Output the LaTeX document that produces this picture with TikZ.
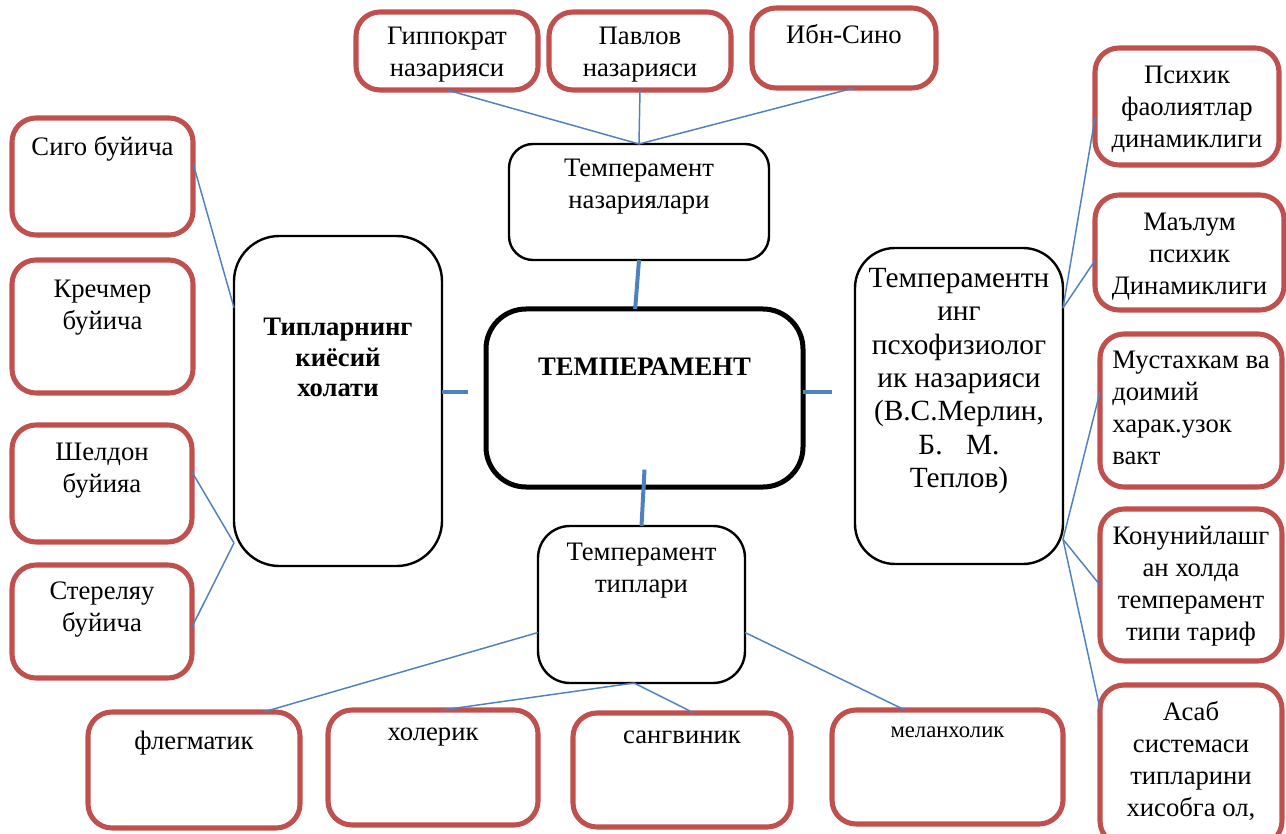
\documentclass[tikz,border=0pt]{standalone}
\usepackage{fontspec}
\setmainfont{Liberation Serif}
\usetikzlibrary{positioning}
\definecolor{boxred}{HTML}{C0504D}
\definecolor{lineblue}{HTML}{4F81BD}

\begin{document}
\begin{tikzpicture}[x=0.75pt,y=-0.75pt,
  every node/.style={font=\fontsize{20}{24}\selectfont},
  base/.style={rectangle,rounded corners=18pt,outer sep=0pt,inner sep=0pt},
  redbox/.style={base,draw=boxred,line width=3.8pt},
  blackbox/.style={base,draw=black,line width=1.8pt},
  txt/.style={anchor=north,inner sep=0pt,align=center,yshift=-12.4pt},
  link/.style={draw=lineblue,line width=1.1pt},
  thicklink/.style={draw=lineblue,line width=3pt}]
\useasboundingbox (0,0) rectangle (1286,834);

% top row
\node[redbox,minimum width=136.5pt,minimum height=58.5pt,
  label={[txt,yshift=1.5pt]north:Гиппократ\\назарияси}] (gipp) at (447,51) {};
\node[redbox,minimum width=136.5pt,minimum height=58.5pt,
  label={[txt,yshift=1.5pt]north:Павлов\\назарияси}] (pavl) at (640,51) {};
\node[redbox,minimum width=138pt,minimum height=60pt,
  label={[txt]north:Ибн-Сино}] (ibn) at (844,48) {};
\node[blackbox,minimum width=195pt,minimum height=87pt,
  label={[txt,yshift=1.5pt]north:Темперамент\\назариялари}] (naz) at (639,202) {};

% centre
\node[base,draw=black,line width=3.75pt,rounded corners=30pt,
  minimum width=237.75pt,minimum height=133.5pt,
  label={[txt,yshift=-24pt,font=\fontsize{20}{24}\selectfont\bfseries]north:ТЕМПЕРАМЕНТ}] (main) at (644.5,398) {};
\node[blackbox,rounded corners=34pt,minimum width=156pt,minimum height=247.5pt,
  label={[txt,yshift=-49pt,font=\fontsize{20}{23}\selectfont\bfseries]north:Типларнинг\\киёсий\\холати}] (tipl) at (338,401) {};
\node[blackbox,rounded corners=30pt,minimum width=156pt,minimum height=237pt,
  label={[txt,yshift=-2.5pt,font=\fontsize{22}{25}\selectfont]north:Темпераментн\\инг\\псхофизиолог\\ик назарияси\\(В.С.Мерлин,\\Б.\hspace{0.8em}М.\\Теплов)}] (psych) at (959,406) {};
\node[blackbox,rounded corners=24pt,minimum width=155.25pt,minimum height=117.75pt,
  label={[txt]north:Темперамент\\типлари}] (types) at (641.5,604.5) {};

% left column
\node[redbox,minimum width=135.75pt,minimum height=87.75pt,
  label={[txt,yshift=-1pt]north:Сиго буйича}] (sigo) at (102.5,176.5) {};
\node[redbox,minimum width=135.75pt,minimum height=99.75pt,
  label={[txt,yshift=-2.5pt]north:Кречмер\\буйича}] (krech) at (102.5,326.5) {};
\node[redbox,minimum width=135pt,minimum height=87.75pt,
  label={[txt,yshift=-1pt]north:Шелдон\\буйияа}] (sheld) at (102,483.5) {};
\node[redbox,minimum width=135pt,minimum height=84.75pt,
  label={[txt]north:Стереляу\\буйича}] (strl) at (102,621.5) {};

% bottom row
\node[redbox,minimum width=159pt,minimum height=87pt,
  label={[txt,yshift=-1.5pt]north:флегматик}] (fleg) at (194,770) {};
\node[redbox,minimum width=157.5pt,minimum height=86.25pt,
  label={[txt,yshift=-1pt]north:холерик}] (chol) at (433,767.5) {};
\node[redbox,minimum width=163.5pt,minimum height=85.5pt,
  label={[txt,yshift=-1pt]north:сангвиник}] (sang) at (682,770) {};
\node[redbox,minimum width=173.25pt,minimum height=85.5pt,
  label={[txt,font=\fontsize{17}{20}\selectfont]north:меланхолик}] (melan) at (947.5,767) {};

% right column
\node[redbox,minimum width=138pt,minimum height=87.75pt,
  label={[txt,yshift=-1pt]north:Психик\\фаолиятлар\\динамиклиги}] (psf) at (1187,106.5) {};
\node[redbox,minimum width=141.75pt,minimum height=86.25pt,
  label={[txt,yshift=-1pt]north:Маълум\\психик\\Динамиклиги}] (mal) at (1189.5,252.5) {};
\node[redbox,minimum width=136.5pt,minimum height=114.75pt,
  label={[txt,anchor=north west,align=left,xshift=9pt]north west:Мустахкам ва\\доимий\\харак.узок\\вакт}] (must) at (1191,410.5) {};
\node[redbox,minimum width=136.5pt,minimum height=114pt,
  label={[txt]north:Конунийлашг\\ан холда\\темперамент\\типи тариф}] (konun) at (1191,585) {};
\node[redbox,minimum width=136.5pt,minimum height=120pt,
  label={[txt]north:Асаб\\системаси\\типларини\\хисобга ол,}] (asab) at (1191,765) {};

\coordinate (stubL) at (468,392);
\coordinate (stubR) at (832,392);

\path[link]
  (gipp.south) edge (naz.north)
  (pavl.south) edge (naz.north)
  ([xshift=7.5pt]ibn.south) edge (naz.north)
  ([yshift=10pt]sigo.east) edge ([yshift=70pt]tipl.west)
  ([yshift=8.6pt]sheld.east) edge ([yshift=-106.5pt]tipl.west)
  ([yshift=-4pt]strl.east) edge ([yshift=-106.5pt]tipl.west)
  ([yshift=-21pt]types.west) edge ([xshift=52pt]fleg.north)
  ([xshift=-5.6pt]types.south) edge ([xshift=7pt]chol.north)
  ([xshift=-5.6pt]types.south) edge ([xshift=9pt]sang.north)
  ([yshift=-21pt]types.east) edge ([xshift=-32pt]melan.north)
  ([yshift=73.5pt]psych.east) edge ([yshift=-8.5pt]psf.west)
  ([yshift=73.5pt]psych.east) edge ([yshift=-6pt]mal.west)
  ([yshift=-100pt]psych.east) edge ([yshift=14pt]must.west)
  ([yshift=-100pt]psych.east) edge (konun.west)
  ([yshift=-100pt]psych.east) edge ([yshift=-18pt]asab.north west);

\path[thicklink]
  (naz.south) edge ([xshift=-7pt]main.north)
  ([yshift=13pt]main.south) edge (types.north)
  (tipl.east |- stubL) edge (stubL)
  (main.east |- stubR) edge (stubR);
\end{tikzpicture}
\end{document}
